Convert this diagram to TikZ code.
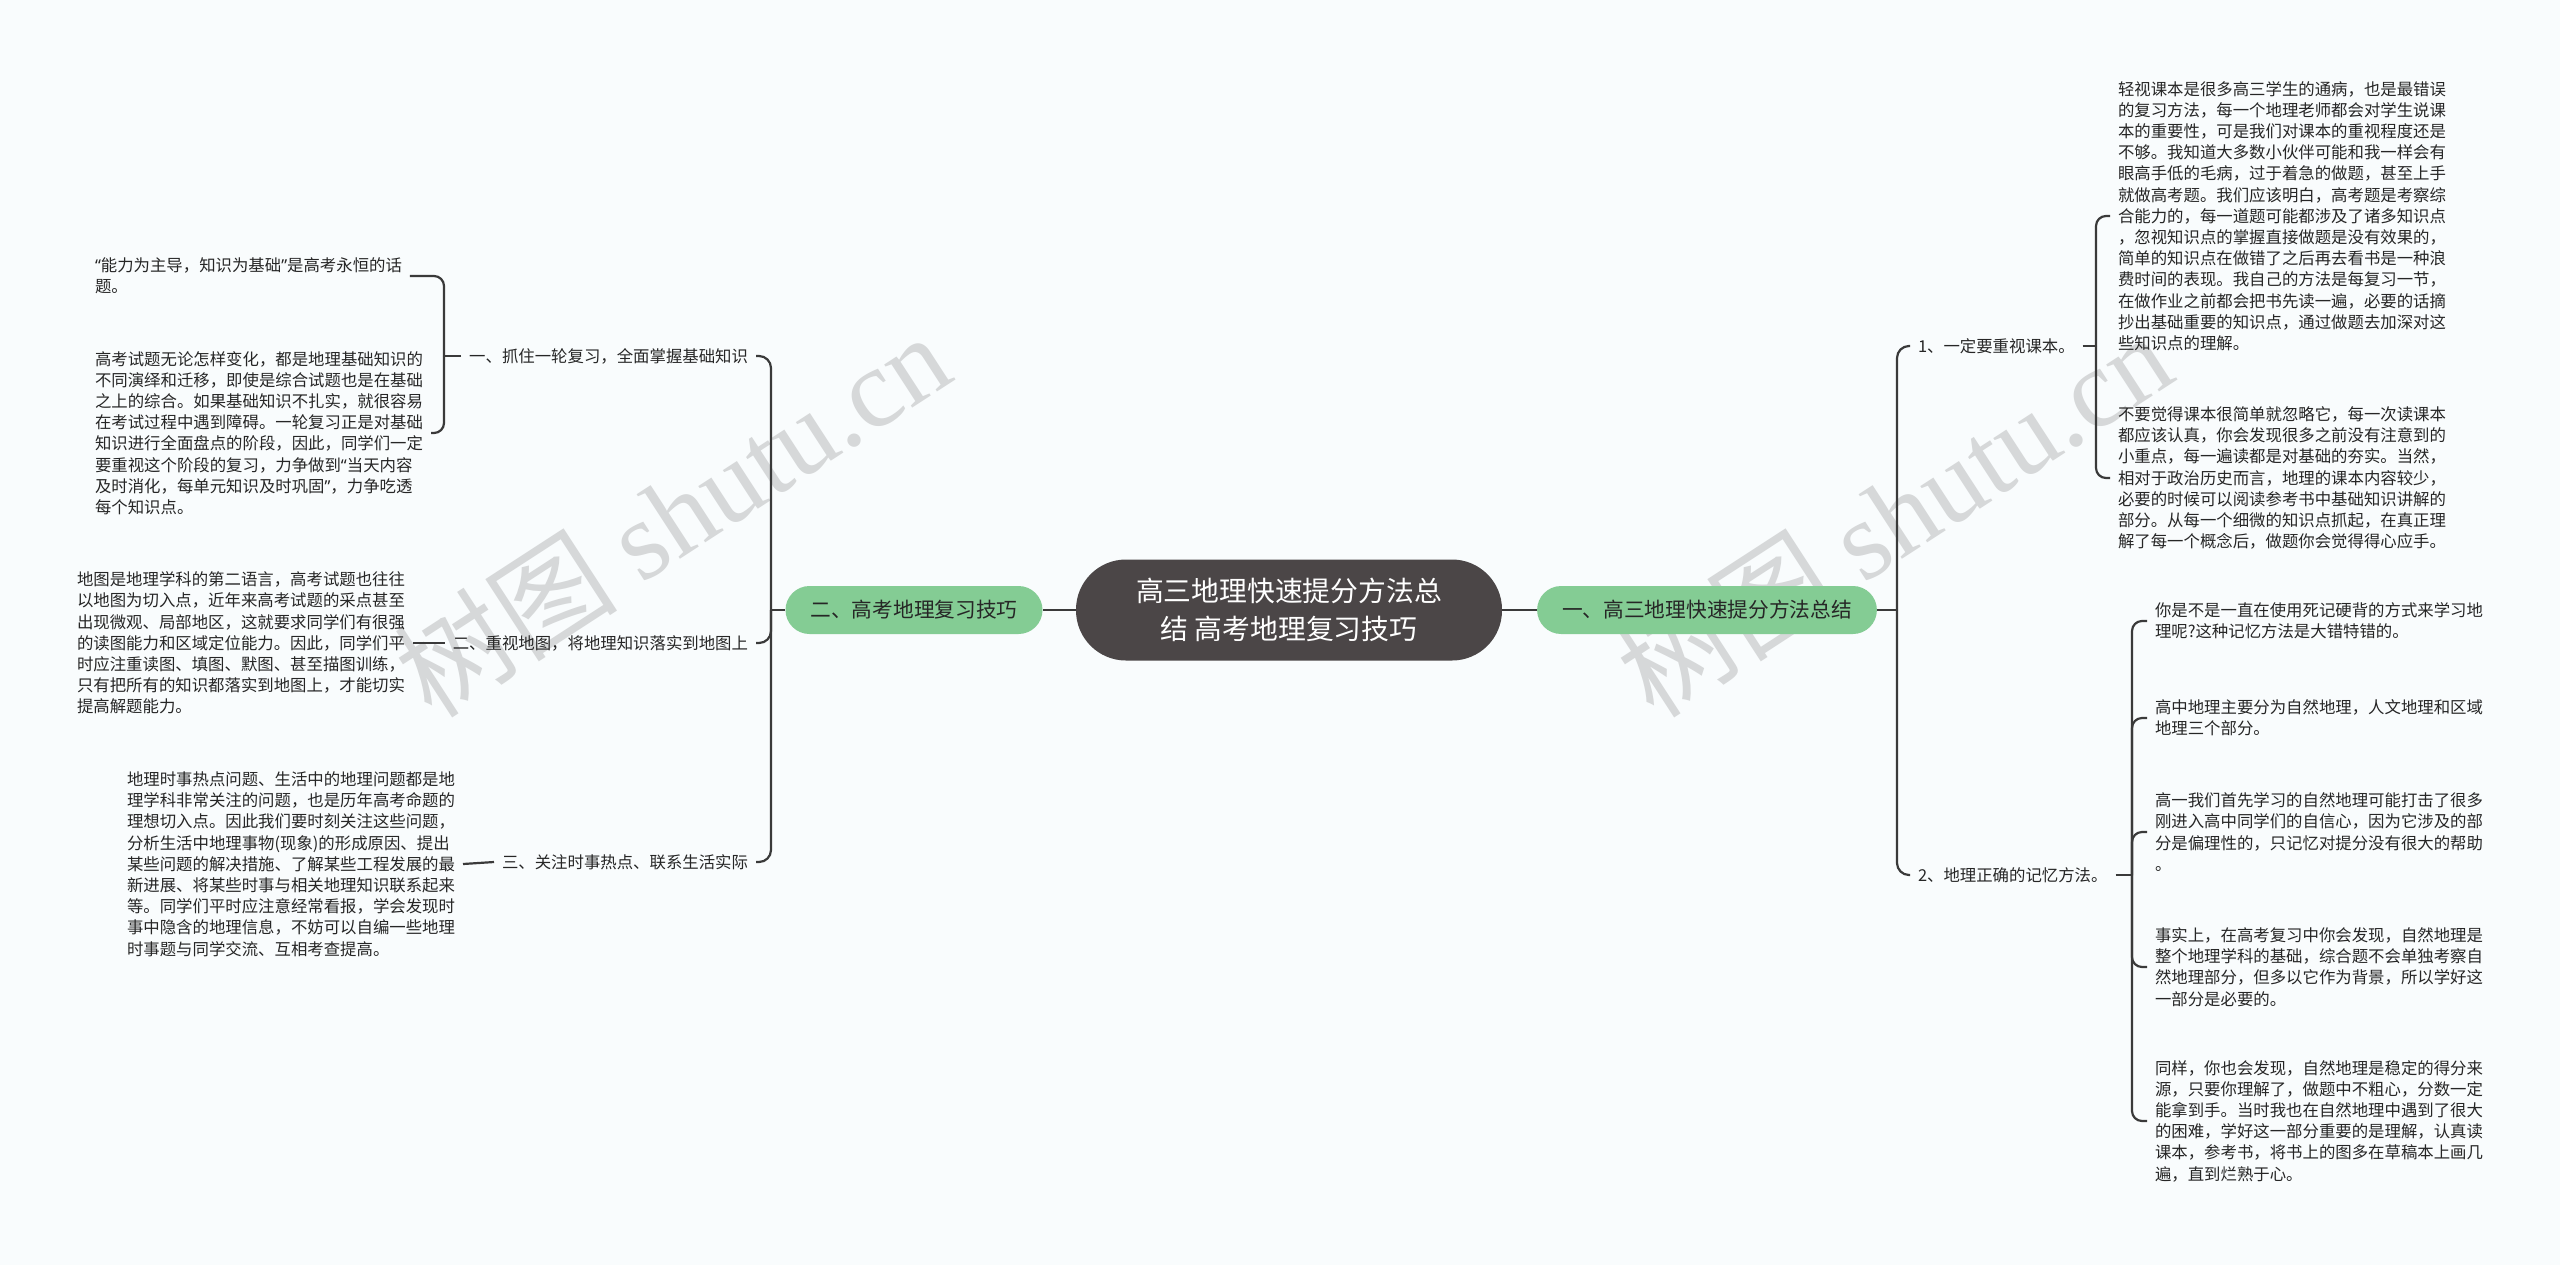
\documentclass[tikz,border=0pt]{standalone}
\usepackage{fontspec}
\setmainfont{Noto Sans CJK SC}
\newfontfamily\wmfont{Liberation Serif}
\newfontfamily\qfont{Noto Sans}
\newcommand{\myLq}{{\qfont “}}
\newcommand{\myRq}{{\qfont ”}}

\definecolor{bgc}{HTML}{F9FCFD}
\definecolor{darkc}{HTML}{4B4647}
\definecolor{greenc}{HTML}{84CC94}
\definecolor{linec}{HTML}{3A3A3A}
\definecolor{txtc}{HTML}{262626}
\definecolor{wmc}{HTML}{D6D8D9}

\begin{document}
\begin{tikzpicture}[x=0.5pt,y=-0.5pt,
 conn/.style={draw=linec, line width=1.1pt},
 mainconn/.style={draw=linec, line width=1.4pt},
 body/.style={inner sep=0pt, outer xsep=4pt, outer ysep=0pt, align=left, text=txtc, font=\fontsize{8.2}{10.6}\selectfont},
 lbl/.style={inner sep=0pt, outer xsep=4pt, outer ysep=0pt, text=txtc, font=\fontsize{8.2}{10.6}\selectfont},
 rootnode/.style={fill=darkc, text=white, rounded corners=25pt, minimum width=213pt, minimum height=50.5pt, align=center, font=\fontsize{13.9}{18.8}\selectfont, inner sep=0pt},
 topic/.style={fill=greenc, text=txtc, rounded corners=12pt, minimum height=24pt, inner xsep=12.5pt, inner ysep=0pt, font=\fontsize{10.35}{12}\selectfont},
 wm/.style={text=wmc, rotate=33, font=\fontsize{56}{60}\selectfont}
]
\useasboundingbox (0,0) rectangle (2560,1265);
\fill[bgc] (0,0) rectangle (2560,1265);

% watermarks
\node[wm] (wm1) at (672,514) {树图 {\wmfont shutu.cn}};
\node[wm] (wm2) at (1894,514) {树图 {\wmfont shutu.cn}};

% central and topics
\node[rootnode] (root) at (1289,610) {高三地理快速提分方法总\\结 高考地理复习技巧};
\node[topic] (g1) at (1707,610) {一、高三地理快速提分方法总结};
\node[topic] (g2) at (914,610) {二、高考地理复习技巧};

% right side
\node[lbl, anchor=west] (r1) at (1910,346) {1、一定要重视课本。};
\node[lbl, anchor=west] (r2) at (1910,875) {2、地理正确的记忆方法。};

\node[body, anchor=west] (r1a) at (2110,216) {轻视课本是很多高三学生的通病，也是最错误\\
的复习方法，每一个地理老师都会对学生说课\\
本的重要性，可是我们对课本的重视程度还是\\
不够。我知道大多数小伙伴可能和我一样会有\\
眼高手低的毛病，过于着急的做题，甚至上手\\
就做高考题。我们应该明白，高考题是考察综\\
合能力的，每一道题可能都涉及了诸多知识点\\
，忽视知识点的掌握直接做题是没有效果的，\\
简单的知识点在做错了之后再去看书是一种浪\\
费时间的表现。我自己的方法是每复习一节，\\
在做作业之前都会把书先读一遍，必要的话摘\\
抄出基础重要的知识点，通过做题去加深对这\\
些知识点的理解。};

\node[body, anchor=west] (r1b) at (2110,478) {不要觉得课本很简单就忽略它，每一次读课本\\
都应该认真，你会发现很多之前没有注意到的\\
小重点，每一遍读都是对基础的夯实。当然，\\
相对于政治历史而言，地理的课本内容较少，\\
必要的时候可以阅读参考书中基础知识讲解的\\
部分。从每一个细微的知识点抓起，在真正理\\
解了每一个概念后，做题你会觉得得心应手。};

\node[body, anchor=west] (r2a) at (2147,621) {你是不是一直在使用死记硬背的方式来学习地\\
理呢?这种记忆方法是大错特错的。};
\node[body, anchor=west] (r2b) at (2147,718) {高中地理主要分为自然地理，人文地理和区域\\
地理三个部分。};
\node[body, anchor=west] (r2c) at (2147,832) {高一我们首先学习的自然地理可能打击了很多\\
刚进入高中同学们的自信心，因为它涉及的部\\
分是偏理性的，只记忆对提分没有很大的帮助\\
。};
\node[body, anchor=west] (r2d) at (2147,967) {事实上，在高考复习中你会发现，自然地理是\\
整个地理学科的基础，综合题不会单独考察自\\
然地理部分，但多以它作为背景，所以学好这\\
一部分是必要的。};
\node[body, anchor=west] (r2e) at (2147,1121) {同样，你也会发现，自然地理是稳定的得分来\\
源，只要你理解了，做题中不粗心，分数一定\\
能拿到手。当时我也在自然地理中遇到了很大\\
的困难，学好这一部分重要的是理解，认真读\\
课本，参考书，将书上的图多在草稿本上画几\\
遍，直到烂熟于心。};

% left side
\node[lbl, anchor=east] (l1) at (756,356) {一、抓住一轮复习，全面掌握基础知识};
\node[lbl, anchor=east] (l2) at (756,643) {二、重视地图，将地理知识落实到地图上};
\node[lbl, anchor=east] (l3) at (756,862) {三、关注时事热点、联系生活实际};

\node[body, anchor=west] (l1a) at (87,276) {\myLq 能力为主导，知识为基础\myRq 是高考永恒的话\\
题。};
\node[body, anchor=west] (l1b) at (87,433) {高考试题无论怎样变化，都是地理基础知识的\\
不同演绎和迁移，即使是综合试题也是在基础\\
之上的综合。如果基础知识不扎实，就很容易\\
在考试过程中遇到障碍。一轮复习正是对基础\\
知识进行全面盘点的阶段，因此，同学们一定\\
要重视这个阶段的复习，力争做到\myLq 当天内容\\
及时消化，每单元知识及时巩固\myRq ，力争吃透\\
每个知识点。};
\node[body, anchor=west] (l2a) at (69,643) {地图是地理学科的第二语言，高考试题也往往\\
以地图为切入点，近年来高考试题的采点甚至\\
出现微观、局部地区，这就要求同学们有很强\\
的读图能力和区域定位能力。因此，同学们平\\
时应注重读图、填图、默图、甚至描图训练，\\
只有把所有的知识都落实到地图上，才能切实\\
提高解题能力。};
\node[body, anchor=west] (l3a) at (119,864) {地理时事热点问题、生活中的地理问题都是地\\
理学科非常关注的问题，也是历年高考命题的\\
理想切入点。因此我们要时刻关注这些问题，\\
分析生活中地理事物(现象)的形成原因、提出\\
某些问题的解决措施、了解某些工程发展的最\\
新进展、将某些时事与相关地理知识联系起来\\
等。同学们平时应注意经常看报，学会发现时\\
事中隐含的地理信息，不妨可以自编一些地理\\
时事题与同学交流、互相考查提高。};

% connectors
\draw[mainconn] (root.east) -- (g1.west);
\draw[mainconn] (root.west) -- (g2.east);

\coordinate (rs) at (1897,610);
\draw[conn] (g1.east) -- (rs);
\draw[conn, rounded corners=6pt] (rs) |- (r1.west);
\draw[conn, rounded corners=6pt] (rs) |- (r2.west);

\coordinate (b1) at (2096,346);
\draw[conn] (r1.east) -- (b1);
\draw[conn, rounded corners=5pt] (b1) |- (r1a.west);
\draw[conn, rounded corners=5pt] (b1) |- (r1b.west);

\coordinate (b2) at (2132,875);
\draw[conn] (r2.east) -- (b2);
\foreach \c in {r2a,r2b,r2c,r2d,r2e}
  \draw[conn, rounded corners=5pt] (b2) |- (\c.west);

\coordinate (ls) at (771,610);
\draw[conn] (g2.west) -- (ls);
\foreach \c in {l1,l2,l3}
  \draw[conn, rounded corners=6pt] (ls) |- (\c.east);

\coordinate (lb1) at (444,356);
\draw[conn] (l1.west) -- (lb1);
\draw[conn, rounded corners=5pt] (lb1) |- (l1a.east);
\draw[conn, rounded corners=5pt] (lb1) |- (l1b.east);

\draw[conn] (l2.west) -- (l2a.east);
\draw[conn] (l3.west) -- (l3a.east);
\end{tikzpicture}
\end{document}
